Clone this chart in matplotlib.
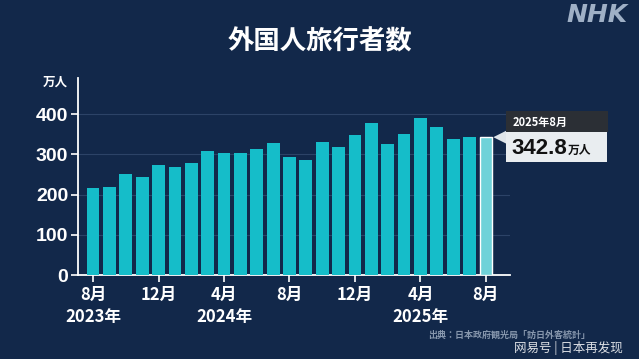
import matplotlib
matplotlib.use("Agg")
import matplotlib.pyplot as plt
from matplotlib.patches import Rectangle, Polygon
from matplotlib.transforms import IdentityTransform, blended_transform_factory

plt.rcParams['font.family'] = ['Noto Sans CJK JP', 'DejaVu Sans']

# monthly foreign visitors to Japan, 10k people (Aug 2023 - Aug 2025)
MONTHS = ["2023-08", "2023-09", "2023-10", "2023-11", "2023-12",
          "2024-01", "2024-02", "2024-03", "2024-04", "2024-05", "2024-06",
          "2024-07", "2024-08", "2024-09", "2024-10", "2024-11", "2024-12",
          "2025-01", "2025-02", "2025-03", "2025-04", "2025-05", "2025-06",
          "2025-07", "2025-08"]
VISITORS = [215.6, 218.4, 251.6, 244.1, 273.4,
            268.8, 278.8, 308.2, 304.3, 304.0, 314.0,
            329.2, 293.4, 287.2, 331.2, 318.7, 348.9,
            378.2, 325.8, 349.8, 390.8, 369.3, 337.8,
            343.7, 342.8]
TICK_IDX = [0, 4, 8, 12, 16, 20, 24]
TICK_LABELS = ["8月", "12月", "4月", "8月", "12月", "4月", "8月"]
YEAR_IDX = [0, 8, 20]
YEAR_LABELS = ["2023年", "2024年", "2025年"]
Y_TICKS = [0, 100, 200, 300, 400]
CALLOUT_DATE = "2025年8月"
CALLOUT_VALUE = "342.8"

BG = "#12284a"
BAR = "#15bdc9"
LAST = "#6fd2d9"
W, H = 639, 359

fig = plt.figure(figsize=(W / 100, H / 100), dpi=100, facecolor=BG)
ax = fig.add_axes([78 / W, 84 / H, (510 - 78) / W, (275 - 78) / H])
ax.set_facecolor(BG)

x = list(range(len(VISITORS)))
colors = [BAR] * (len(VISITORS) - 1) + [LAST]
edges = [BAR] * (len(VISITORS) - 1) + ["white"]
ax.bar(x, VISITORS, width=0.78, color=colors, edgecolor=edges,
       linewidth=[0] * (len(VISITORS) - 1) + [1.0], zorder=3)

ax.set_xlim(-0.92, 25.47)
ax.set_ylim(0, 490)
ax.set_yticks(Y_TICKS)
ax.set_yticklabels([str(v) for v in Y_TICKS], fontsize=14, fontweight="bold",
                   color="white", family="Liberation Sans")
ax.set_xticks(TICK_IDX)
ax.set_xticklabels(TICK_LABELS, fontsize=12, fontweight="bold", color="white")
ax.tick_params(axis="y", length=5, width=1.2, color="white", pad=2)
ax.tick_params(axis="x", length=5, width=1.2, color="white", pad=3)

for v in Y_TICKS[1:]:
    ax.axhline(v, color="#2c4367", linewidth=0.8, zorder=1)

for s in ["top", "right"]:
    ax.spines[s].set_visible(False)
for s in ["left", "bottom"]:
    ax.spines[s].set_color("white")
    ax.spines[s].set_linewidth(1.3)

trans = blended_transform_factory(ax.transData, fig.transFigure)
for i, lab in zip(YEAR_IDX, YEAR_LABELS):
    ax.text(i, 1 - 317 / H, lab, transform=trans, ha="center", va="center",
            fontsize=12, fontweight="bold", color="white")

# titles and labels
fig.text(320 / W, 1 - 42 / H, "外国人旅行者数", ha="center", va="center",
         fontsize=19, fontweight="bold", color="white")
fig.text(68 / W, 1 - 82 / H, "万人", ha="right", va="center",
         fontsize=9, fontweight="bold", color="white")
fig.text(597 / W, 1 - 15 / H, "NHK", ha="center", va="center",
         fontsize=18, fontweight="heavy", style="italic", color="#9fb0c6",
         family="DejaVu Sans")
fig.text(428 / W, 1 - 335 / H, "出典：日本政府観光局「訪日外客統計」", ha="left",
         va="center", fontsize=6.5, fontweight="bold", color="#8797ad")
fig.text(623 / W, 1 - 348 / H, "网易号 | 日本再发现", ha="right", va="center",
         fontsize=9, color="white", alpha=0.85,
         family=["Noto Sans CJK SC", "DejaVu Sans"])

# callout anchored to the last bar
px, py = ax.transData.transform((len(VISITORS) - 1 + 0.39, VISITORS[-1]))
ident = IdentityTransform()
fig.patches.append(Polygon([[px + 1, py], [px + 15, py + 7], [px + 15, py - 7]],
                           closed=True, facecolor="#dfe5ea", edgecolor="none",
                           transform=ident, figure=fig))
fig.patches.append(Rectangle((px + 14, py + 5), 102, 21, facecolor="#2b2f35",
                             edgecolor="none", transform=ident, figure=fig))
fig.patches.append(Rectangle((px + 14, py - 25), 101, 30, facecolor="#e9edf0",
                             edgecolor="none", transform=ident, figure=fig))
fig.text(px + 20, py + 15, CALLOUT_DATE, transform=ident, ha="left", va="center",
         fontsize=8, fontweight="bold", color="white")
t = fig.text(px + 19, py - 17, CALLOUT_VALUE, transform=ident, ha="left",
             va="baseline", fontsize=16, fontweight="bold", color="#111111",
             family="Liberation Sans")
fig.canvas.draw()
bb = t.get_window_extent()
fig.text(bb.x1 + 1, py - 17, "万人", transform=ident, ha="left", va="baseline",
         fontsize=8.5, fontweight="bold", color="#111111")

fig.savefig("out.png", dpi=100, facecolor=BG)
